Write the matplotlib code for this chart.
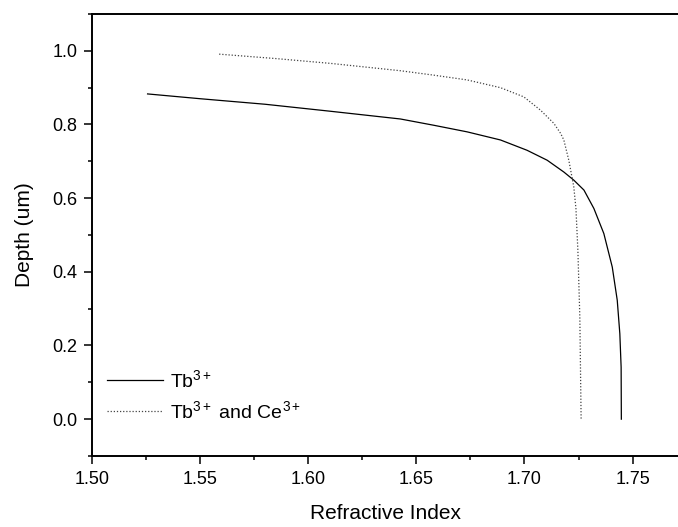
import matplotlib
matplotlib.use("Agg")
import matplotlib.pyplot as plt
from matplotlib.ticker import MultipleLocator, FormatStrFormatter

plt.rcParams['font.family'] = ['Liberation Sans', 'DejaVu Sans']
plt.rcParams['mathtext.fontset'] = 'custom'
plt.rcParams['mathtext.rm'] = 'Liberation Sans'
plt.rcParams['mathtext.it'] = 'Liberation Sans'

# Tb3+ series
tb_x = [1.5257, 1.55, 1.58, 1.6102, 1.6426, 1.658, 1.6735, 1.6889, 1.7012, 1.7105,
        1.7182, 1.7228, 1.7275, 1.7321, 1.7367, 1.7406, 1.7429, 1.7441, 1.7447, 1.7448]
tb_y = [0.883, 0.870, 0.855, 0.836, 0.815, 0.798, 0.780, 0.758, 0.730, 0.703,
        0.671, 0.649, 0.622, 0.572, 0.504, 0.413, 0.323, 0.232, 0.141, 0.0]

# Tb3+ and Ce3+ series
tbce_x = [1.5588, 1.585, 1.6102, 1.6426, 1.658, 1.6735, 1.6889, 1.6997, 1.7074,
          1.7136, 1.7167, 1.7182, 1.7205, 1.7228, 1.7238, 1.7247, 1.7256, 1.7262]
tbce_y = [0.991, 0.979, 0.966, 0.946, 0.934, 0.921, 0.900, 0.875, 0.839,
          0.803, 0.776, 0.758, 0.703, 0.631, 0.572, 0.458, 0.277, 0.0]

labels = [r'Tb$^{\mathrm{3+}}$', r'Tb$^{\mathrm{3+}}$ and Ce$^{\mathrm{3+}}$']

fig = plt.figure(figsize=(6.78, 5.27), dpi=100)
ax = fig.add_axes([92/678, 1-456/527, 1-92/678, (456-14)/527])

ax.plot(tb_x, tb_y, color='black', lw=0.9, label=labels[0], solid_joinstyle='round')
ax.plot(tbce_x, tbce_y, color='#444444', lw=0.9, linestyle=(0, (1, 1.5)), label=labels[1])

ax.set_xlim(1.50, 1.771)
ax.set_ylim(-0.1, 1.1)
ax.xaxis.set_major_locator(MultipleLocator(0.05))
ax.xaxis.set_minor_locator(MultipleLocator(0.025))
ax.yaxis.set_major_locator(MultipleLocator(0.2))
ax.yaxis.set_minor_locator(MultipleLocator(0.1))
ax.xaxis.set_major_formatter(FormatStrFormatter('%.2f'))
ax.yaxis.set_major_formatter(FormatStrFormatter('%.1f'))

ax.spines['right'].set_visible(False)
for s in ['left', 'bottom', 'top']:
    ax.spines[s].set_linewidth(1.4)
ax.tick_params(which='major', direction='out', length=5.5, width=1.1, labelsize=13, pad=5)
ax.tick_params(which='minor', direction='out', length=3.2, width=1.1)
ax.tick_params(top=False, right=False)

ax.set_xlabel('Refractive Index', fontsize=15, labelpad=12)
ax.set_ylabel('Depth (um)', fontsize=15, labelpad=13)

leg = ax.legend(loc='lower left', bbox_to_anchor=(-0.005, 0.038), frameon=False,
                fontsize=14, handlelength=2.9, handletextpad=0.35, labelspacing=0.45,
                borderaxespad=0.5)

fig.savefig('out.png', dpi=100)
